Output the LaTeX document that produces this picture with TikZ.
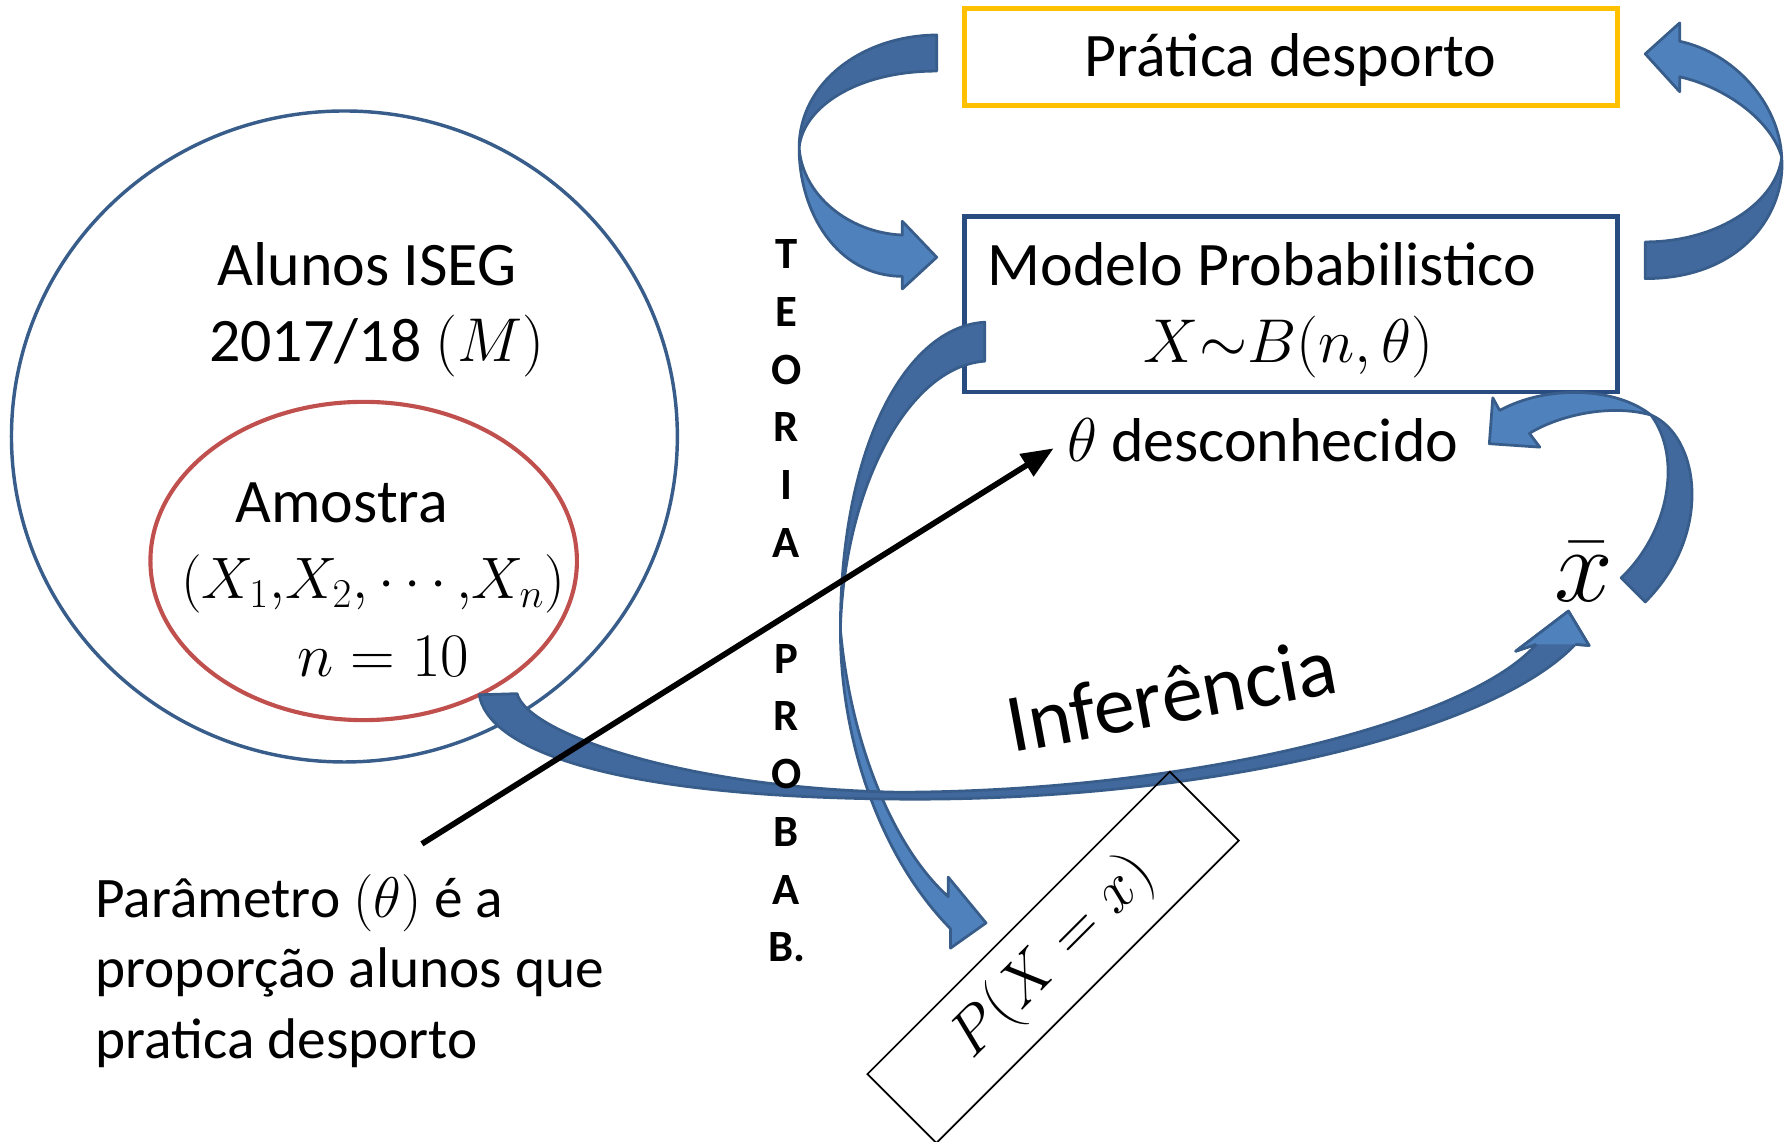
\documentclass[tikz,border=0pt]{standalone}
\usepackage{fix-cm}
\usepackage{fontspec}
\setmainfont{Carlito}
\usetikzlibrary{arrows.meta}

\definecolor{ellblue}{RGB}{56,93,138}
\definecolor{ellred}{RGB}{192,80,77}
\definecolor{boxgold}{RGB}{255,192,0}
\definecolor{boxnavy}{RGB}{40,76,128}
\definecolor{arrlight}{RGB}{79,129,189}
\definecolor{arrdark}{RGB}{65,105,158}
\definecolor{arredge}{RGB}{56,93,138}

\tikzset{every picture/.style={line width=0.75pt}}
\tikzset{
  curved band/.style={draw=arredge, line width=1.2pt, line join=round},
  band front/.style={curved band, fill=arrlight},
  band back/.style={curved band, fill=arrdark},
  label text/.style={inner sep=0pt, font=\fontsize{27pt}{30.8pt}\selectfont},
}

\begin{document}
\begin{tikzpicture}[x=0.5pt,y=0.5pt,yscale=-1,xscale=1]
\useasboundingbox (0,0) rectangle (1563,995.2);

%Shape: Ellipse
\draw [color=ellblue, line width=1.5pt] (300.4,380.7) ellipse [x radius=290.4, y radius=283.9];
%Shape: Ellipse
\draw [color=ellred, line width=1.8pt] (317.2,489.3) ellipse [x radius=186, y radius=138.8];

%Shape: Rectangle
\draw [color=boxgold, line width=2.2pt] (841,7) rectangle (1411,92);
%Shape: Rectangle
\draw [color=boxnavy, line width=2pt] (841,189) rectangle (1411,342);

%Curved Arrow (model to distribution)
\draw [band back] (859,281) .. controls (790,285) and (733,390) .. (733,549) .. controls (736,430) and (790,320) .. (859,315) -- cycle;
\draw [band front] (733,549) .. controls (733,650) and (770,750) .. (829,810) -- (829,827) -- (860,805) -- (827,765) -- (827,782) .. controls (780,740) and (742,650) .. (733,549) -- cycle;
%Curved Arrow (sample to mean)
\draw [band back] (418,606) .. controls (425,650) and (520,695) .. (785,697) .. controls (1050,699) and (1300,640) .. (1374,562) -- (1386,563) -- (1368,533) -- (1322,568) -- (1340,562) .. controls (1280,630) and (1040,690) .. (785,691) .. controls (600,688) and (460,640) .. (451,605) -- cycle;
\fill [arrlight] (1374,562) -- (1386,563) -- (1368,533) -- (1322,568) -- (1340,562) -- cycle;
\draw [curved band] (1374,562) -- (1386,563) -- (1368,533) -- (1322,568) -- (1340,562);
%Curved Arrow (top left)
\draw [band back] (817,30.5) .. controls (752,31) and (697,72) .. (697,129) .. controls (700,95) and (745,62) .. (817,62) -- cycle;
\draw [band front] (697,129) .. controls (697,185) and (730,241) .. (787,241) -- (787,252) -- (817,224.4) -- (787,193) -- (787,205) .. controls (740,203) and (700,170) .. (697,129) -- cycle;
%Curved Arrow (top right)
\draw [band back] (1435,211) .. controls (1500,211) and (1550,175) .. (1554,137) .. controls (1558,185) and (1520,243) .. (1435,243) -- cycle;
\draw [band front] (1554,137) .. controls (1552,90) and (1512,46) .. (1465,36) -- (1465,20) -- (1435,47) -- (1465,80) -- (1465,67) .. controls (1505,76) and (1545,105) .. (1554,137) -- cycle;
%Curved Arrow (mean to parameter)
\draw [band back] (1440,362) .. controls (1482,380) and (1495,465) .. (1435,525) -- (1414,504) .. controls (1455,465) and (1468,400) .. (1440,362) -- cycle;
\draw [band front] (1440,362) .. controls (1410,338) and (1350,335) .. (1308,358) -- (1302,347) -- (1299,387) -- (1343,390) -- (1334,378) .. controls (1360,362) and (1405,352) .. (1440,362) -- cycle;

% Text Node
\draw (1125.5,66.8) node [anchor=base][label text] (pratica) {Prática desporto};
% Text Node
\draw (860.6,248.7) node [anchor=base west][label text] (modelo) {Modelo Probabilistico};
% Text Node
\draw (1124,316) node [anchor=base][label text] (binom) {$X{\sim}B(n,\theta)$};
% Text Node
\draw (930,402.7) node [anchor=base west][label text] (theta) {$\theta$ desconhecido};
% Text Node
\draw (320.3,248.8) node [anchor=base][label text] (alunos) {Alunos ISEG};
% Text Node
\draw (328.6,315.5) node [anchor=base][label text] (ano) {2017/18 $(M)$};
% Text Node
\draw (298,455.6) node [anchor=base][label text] (amostra) {Amostra};
% Text Node
\draw (325.5,522.4) node [anchor=base][label text][font=\fontsize{25.5pt}{30pt}\selectfont] (vars) {$(X_1{,}X_2{,}\cdots{,}X_n)$};
% Text Node
\draw (334.3,590) node [anchor=base][label text] (tamanho) {$n=10$};
% Text Node
\draw (82.6,923.2) node [anchor=base west][label text][align=left][font=\fontsize{25pt}{30.8pt}\selectfont] (param) {Parâmetro $(\theta)$ é a\\proporção alunos que\\pratica desporto};
% Text Node
\draw (686,839) node [anchor=base][inner sep=0pt][align=center][font=\bfseries\fontsize{19.5pt}{25.2pt}\selectfont] (teoria) {T\\E\\O\\R\\I\\A\\[25.2pt]P\\R\\O\\B\\A\\B.};
% Text Node
\draw (1022,606) node [rotate=10.5][inner sep=0pt][font=\fontsize{36pt}{40pt}\selectfont] (inferencia) {Inferência};
% Text Node
\draw (1381,499) node [inner sep=0pt][font=\fontsize{46pt}{50pt}\selectfont] (xbar) {$\bar{x}$};
%Shape: Rectangle
\draw (918.5,835) node [draw, rotate=45, minimum width=186.5pt, minimum height=42.5pt][label text] (prob) {$P(X=x)$};

%Straight Lines
\coordinate (ptail) at (368,736);
\coordinate (phead) at (919,391);
\draw [line width=2.5pt, -{Triangle[length=14pt,width=11pt]}] (ptail) -- (phead);
\end{tikzpicture}
\end{document}
